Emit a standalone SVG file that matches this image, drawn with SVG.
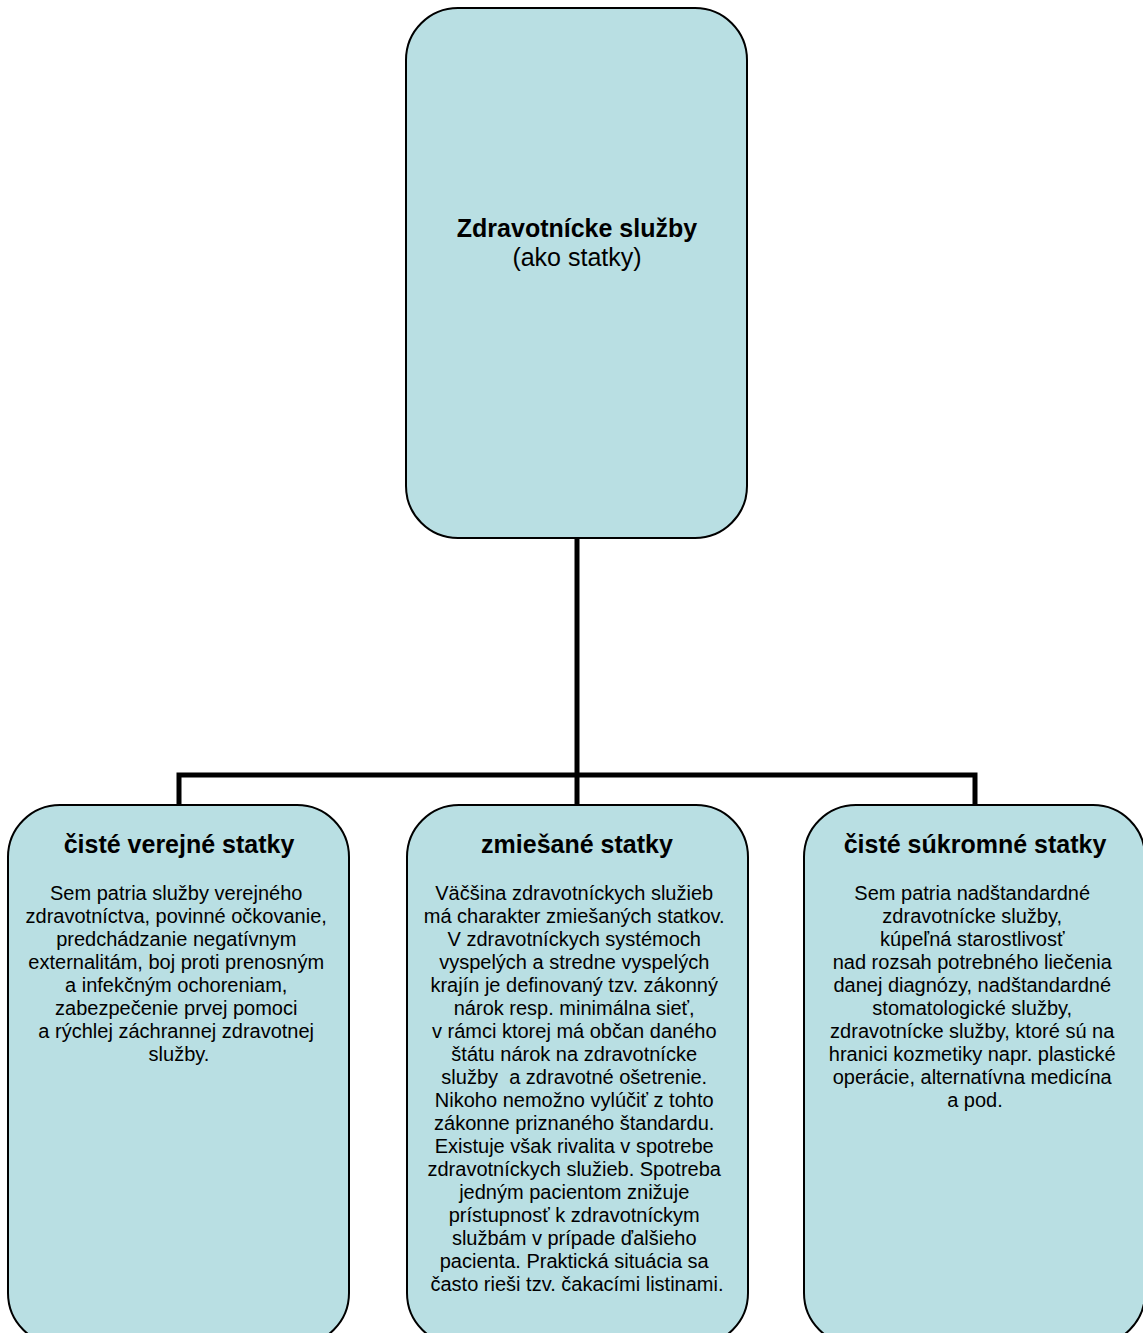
<svg xmlns="http://www.w3.org/2000/svg" width="1143" height="1333" viewBox="0 0 1143 1333">
<style>
.box{fill:#b9dfe3;stroke:#000;stroke-width:2}
.t{font-family:"Liberation Sans",Arial,sans-serif;text-anchor:middle;fill:#000}
.h{font-size:25px;font-weight:bold}
.b{font-size:20px}
.conn{fill:none;stroke:#000;stroke-width:5}
</style>
<rect width="1143" height="1333" fill="#fff"/>
<g id="connectors">
<path class="conn" d="M577,538 V775 M179,804 V775 H975 V804 M577,775 V804"/>
</g>
<g id="root">
<rect class="box" x="406" y="8" width="341" height="530" rx="52" ry="52"/>
<text class="t h" x="577" y="237">Zdravotnícke služby</text>
<text class="t" style="font-size:25px" x="577" y="266">(ako statky)</text>
</g>
<g id="verejne">
<rect class="box" x="8" y="805" width="341" height="540" rx="52" ry="52"/>
<text class="t h" x="179" y="853">čisté verejné statky</text>
<text class="t b" x="179" y="900">
<tspan x="179" y="900">Sem patria služby verejného</tspan>
<tspan x="179" dy="23">zdravotníctva, povinné očkovanie,</tspan>
<tspan x="179" dy="23">predchádzanie negatívnym</tspan>
<tspan x="179" dy="23">externalitám, boj proti prenosným</tspan>
<tspan x="179" dy="23">a infekčným ochoreniam,</tspan>
<tspan x="179" dy="23">zabezpečenie prvej pomoci</tspan>
<tspan x="179" dy="23">a rýchlej záchrannej zdravotnej</tspan>
<tspan x="179" dy="23">služby.</tspan>
</text>
</g>
<g id="zmiesane">
<rect class="box" x="407" y="805" width="341" height="540" rx="52" ry="52"/>
<text class="t h" x="577" y="853">zmiešané statky</text>
<text class="t b" x="577" y="900">
<tspan x="577" y="900">Väčšina zdravotníckych služieb</tspan>
<tspan x="577" dy="23">má charakter zmiešaných statkov.</tspan>
<tspan x="577" dy="23">V zdravotníckych systémoch</tspan>
<tspan x="577" dy="23">vyspelých a stredne vyspelých</tspan>
<tspan x="577" dy="23">krajín je definovaný tzv. zákonný</tspan>
<tspan x="577" dy="23">nárok resp. minimálna sieť,</tspan>
<tspan x="577" dy="23">v rámci ktorej má občan daného</tspan>
<tspan x="577" dy="23">štátu nárok na zdravotnícke</tspan>
<tspan x="577" dy="23" xml:space="preserve">služby  a zdravotné ošetrenie.</tspan>
<tspan x="577" dy="23">Nikoho nemožno vylúčiť z tohto</tspan>
<tspan x="577" dy="23">zákonne priznaného štandardu.</tspan>
<tspan x="577" dy="23">Existuje však rivalita v spotrebe</tspan>
<tspan x="577" dy="23">zdravotníckych služieb. Spotreba</tspan>
<tspan x="577" dy="23">jedným pacientom znižuje</tspan>
<tspan x="577" dy="23">prístupnosť k zdravotníckym</tspan>
<tspan x="577" dy="23">službám v prípade ďalšieho</tspan>
<tspan x="577" dy="23">pacienta. Praktická situácia sa</tspan>
<tspan x="577" dy="23">často rieši tzv. čakacími listinami.</tspan>
</text>
</g>
<g id="sukromne">
<rect class="box" x="804" y="805" width="341" height="540" rx="52" ry="52"/>
<text class="t h" x="975" y="853">čisté súkromné statky</text>
<text class="t b" x="975" y="900">
<tspan x="975" y="900">Sem patria nadštandardné</tspan>
<tspan x="975" dy="23">zdravotnícke služby,</tspan>
<tspan x="975" dy="23">kúpeľná starostlivosť</tspan>
<tspan x="975" dy="23">nad rozsah potrebného liečenia</tspan>
<tspan x="975" dy="23">danej diagnózy, nadštandardné</tspan>
<tspan x="975" dy="23">stomatologické služby,</tspan>
<tspan x="975" dy="23">zdravotnícke služby, ktoré sú na</tspan>
<tspan x="975" dy="23">hranici kozmetiky napr. plastické</tspan>
<tspan x="975" dy="23">operácie, alternatívna medicína</tspan>
<tspan x="975" dy="23">a pod.</tspan>
</text>
</g>
</svg>
